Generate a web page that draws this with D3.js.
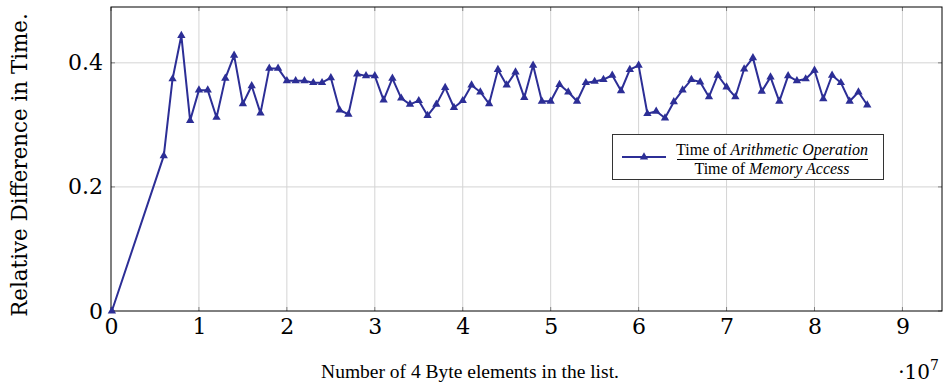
<!DOCTYPE html>
<html>
<head>
<meta charset="utf-8">
<script src="https://cdn.jsdelivr.net/npm/d3@7"></script>
<style>
  body { margin: 0; background: #fff; }
</style>
</head>
<body>
<div id="chart-area"></div>
<script>
const MARGIN = { LEFT: 111, RIGHT: 1, TOP: 7, BOTTOM: 74 }
const WIDTH = 943 - MARGIN.LEFT - MARGIN.RIGHT
const HEIGHT = 385 - MARGIN.TOP - MARGIN.BOTTOM

const TIMES = "'Liberation Serif', 'Times New Roman', serif"
const CM = "'DejaVu Serif', serif"

// x in units of 10^7 elements
const xValues = [0.01, 0.6, 0.7, 0.8, 0.9, 1.0, 1.1, 1.2, 1.3, 1.4, 1.5, 1.6, 1.7, 1.8, 1.9,
	2.0, 2.1, 2.2, 2.3, 2.4, 2.5, 2.6, 2.7, 2.8, 2.9, 3.0, 3.1, 3.2, 3.3, 3.4, 3.5, 3.6, 3.7, 3.8, 3.9,
	4.0, 4.1, 4.2, 4.3, 4.4, 4.5, 4.6, 4.7, 4.8, 4.9, 5.0, 5.1, 5.2, 5.3, 5.4, 5.5, 5.6, 5.7, 5.8, 5.9,
	6.0, 6.1, 6.2, 6.3, 6.4, 6.5, 6.6, 6.7, 6.8, 6.9, 7.0, 7.1, 7.2, 7.3, 7.4, 7.5, 7.6, 7.7, 7.8, 7.9,
	8.0, 8.1, 8.2, 8.3, 8.4, 8.5, 8.6]
const ratioValues = [0, 0.250, 0.374, 0.444, 0.307, 0.356, 0.356, 0.312, 0.375, 0.412, 0.334, 0.363, 0.319, 0.391, 0.391,
	0.371, 0.371, 0.371, 0.368, 0.368, 0.376, 0.324, 0.317, 0.382, 0.379, 0.379, 0.340, 0.375, 0.343, 0.333, 0.339, 0.315, 0.333, 0.360, 0.328,
	0.339, 0.364, 0.353, 0.334, 0.389, 0.364, 0.385, 0.344, 0.396, 0.338, 0.338, 0.365, 0.353, 0.338, 0.368, 0.370, 0.373, 0.380, 0.355, 0.389,
	0.396, 0.318, 0.322, 0.311, 0.337, 0.356, 0.373, 0.369, 0.345, 0.380, 0.361, 0.345, 0.390, 0.408, 0.354, 0.377, 0.338, 0.379, 0.371, 0.374,
	0.388, 0.342, 0.380, 0.368, 0.338, 0.353, 0.332]
const xTicks = [0, 1, 2, 3, 4, 5, 6, 7, 8, 9]
const yTicks = [0, 0.2, 0.4]

const data = xValues.map((x, i) => ({ x: x, y: ratioValues[i] }))
const LINE_COLOR = "#2c2e96"

const svg = d3.select("#chart-area").append("svg")
	.attr("width", 943)
	.attr("height", 385)

const g = svg.append("g")
	.attr("transform", `translate(${MARGIN.LEFT}, ${MARGIN.TOP})`)

// scales
const x = d3.scaleLinear().domain([0, 9.45]).range([0, WIDTH])
const y = d3.scaleLinear().domain([0, 0.49]).range([HEIGHT, 0])

// grid lines
g.append("g").selectAll("line").data(xTicks.filter(d => d > 0)).join("line")
	.attr("x1", d => x(d)).attr("x2", d => x(d))
	.attr("y1", 0).attr("y2", HEIGHT)
	.attr("stroke", "#d4d4d4").attr("stroke-width", 1)
g.append("g").selectAll("line").data(yTicks.filter(d => d > 0)).join("line")
	.attr("x1", 0).attr("x2", WIDTH)
	.attr("y1", d => y(d)).attr("y2", d => y(d))
	.attr("stroke", "#d4d4d4").attr("stroke-width", 1)

// inward tick marks on all four sides
const tickLen = 4
const ticks = g.append("g").attr("stroke", "#808080").attr("stroke-width", 1)
xTicks.forEach(d => {
	ticks.append("line").attr("x1", x(d)).attr("x2", x(d)).attr("y1", HEIGHT).attr("y2", HEIGHT - tickLen)
	ticks.append("line").attr("x1", x(d)).attr("x2", x(d)).attr("y1", 0).attr("y2", tickLen)
})
yTicks.forEach(d => {
	ticks.append("line").attr("x1", 0).attr("x2", tickLen).attr("y1", y(d)).attr("y2", y(d))
	ticks.append("line").attr("x1", WIDTH).attr("x2", WIDTH - tickLen).attr("y1", y(d)).attr("y2", y(d))
})

// frame
g.append("rect")
	.attr("x", 0).attr("y", 0)
	.attr("width", WIDTH).attr("height", HEIGHT)
	.attr("fill", "none").attr("stroke", "#000").attr("stroke-width", 1)

// axes (labels only, pgfplots style)
const xAxisCall = d3.axisBottom(x).tickValues(xTicks).tickSize(0).tickPadding(7).tickFormat(d3.format("d"))
const yAxisCall = d3.axisLeft(y).tickValues(yTicks).tickSize(0).tickPadding(8).tickFormat(d => d === 0 ? "0" : d3.format(".1f")(d))

const xAxis = g.append("g")
	.attr("transform", `translate(0, ${HEIGHT})`)
	.call(xAxisCall)
const yAxis = g.append("g").call(yAxisCall)
xAxis.select(".domain").remove()
yAxis.select(".domain").remove()
g.selectAll(".tick text")
	.attr("font-family", CM)
	.attr("font-size", "22px")
	.attr("fill", "#000")

// line
const line = d3.line()
	.x(d => x(d.x))
	.y(d => y(d.y))

g.append("path")
	.attr("d", line(data))
	.attr("fill", "none")
	.attr("stroke", LINE_COLOR)
	.attr("stroke-width", 2)
	.attr("stroke-linejoin", "round")

// triangle markers
const tri = d3.symbol().type(d3.symbolTriangle).size(30)
g.append("g").selectAll("path").data(data).join("path")
	.attr("d", tri)
	.attr("transform", d => `translate(${x(d.x)}, ${y(d.y)})`)
	.attr("fill", LINE_COLOR)

// axis labels
g.append("text")
	.attr("x", 359)
	.attr("y", HEIGHT + 67)
	.attr("font-family", TIMES)
	.attr("font-size", "19.5px")
	.attr("text-anchor", "middle")
	.text("Number of 4 Byte elements in the list.")

g.append("text")
	.attr("transform", "rotate(-90)")
	.attr("x", -158)
	.attr("y", -84)
	.attr("font-family", CM)
	.attr("font-size", "21.4px")
	.attr("text-anchor", "middle")
	.text("Relative Difference in Time.")

// scale factor label
const sf = g.append("text")
	.attr("x", WIDTH - 3)
	.attr("y", HEIGHT + 68)
	.attr("font-family", CM)
	.attr("font-size", "20px")
	.attr("text-anchor", "end")
sf.append("tspan").text("\u00b710")
sf.append("tspan").attr("font-size", "14px").attr("dy", -9).text("7")

// legend
const legend = svg.append("g")
legend.append("rect")
	.attr("x", 612.5).attr("y", 134.5)
	.attr("width", 271).attr("height", 45)
	.attr("fill", "#fff").attr("stroke", "#333").attr("stroke-width", 1)
legend.append("line")
	.attr("x1", 622).attr("x2", 666).attr("y1", 157).attr("y2", 157)
	.attr("stroke", LINE_COLOR).attr("stroke-width", 2)
legend.append("path")
	.attr("d", tri)
	.attr("transform", "translate(644, 157)")
	.attr("fill", LINE_COLOR)

const num = legend.append("text")
	.attr("x", 772).attr("y", 155)
	.attr("font-family", TIMES)
	.attr("font-size", "16px")
	.attr("text-anchor", "middle")
num.append("tspan").text("Time of ")
num.append("tspan").attr("font-style", "italic").text("Arithmetic Operation")
legend.append("line")
	.attr("x1", 677).attr("x2", 868).attr("y1", 159.5).attr("y2", 159.5)
	.attr("stroke", "#000").attr("stroke-width", 1)
const den = legend.append("text")
	.attr("x", 772).attr("y", 174)
	.attr("font-family", TIMES)
	.attr("font-size", "16px")
	.attr("text-anchor", "middle")
den.append("tspan").text("Time of ")
den.append("tspan").attr("font-style", "italic").text("Memory Access")
</script>
</body>
</html>
